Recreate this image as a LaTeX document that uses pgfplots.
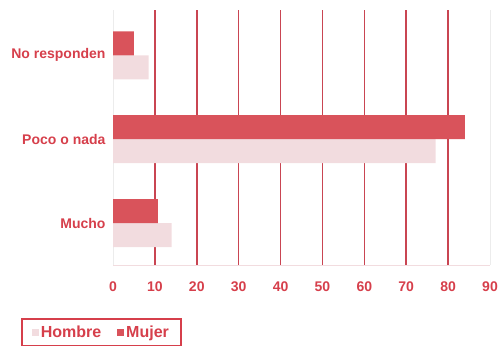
\documentclass[border=0pt]{standalone}
\usepackage{fontspec}
\setmainfont{Liberation Sans}
\usepackage{pgfplots}
\pgfplotsset{compat=1.18}
\definecolor{mujer}{HTML}{D9535B}
\definecolor{hombre}{HTML}{F2DCDF}
\definecolor{txt}{HTML}{D63F4B}
\definecolor{gridc}{HTML}{C94552}
\begin{document}
\begin{tikzpicture}[x=1pt,y=1pt]
\useasboundingbox (0,0) rectangle (500,345);
\begin{axis}[
 at={(113pt,80pt)}, anchor=south west,
 scale only axis, width=377pt, height=255pt,
 xmin=0, xmax=90, ymin=-0.5, ymax=2.54,
 xbar, bar width=24pt,
 xtick={10,20,...,80},
 extra x ticks={0,90},
 extra x tick style={grid=major, major grid style={draw=gray!15, line width=1pt}},
 xmajorgrids, major grid style={draw=gridc, line width=1.6pt},
 ytick={0,1,2}, yticklabels={Mucho,Poco o nada,No responden},
 major tick length=0pt,
 axis lines*=left,
 axis line style={draw=hombre, line width=1pt},
 tick label style={font=\bfseries\fontsize{14}{16}\selectfont, text=txt},
 /pgf/number format/assume math mode=true,
 xticklabel style={yshift=-13pt},
 yticklabel style={xshift=-4pt},
 legend columns=2,
 legend style={at={(-0.244,-0.208)}, anchor=north west, draw=txt, line width=1.5pt,
   font=\bfseries\fontsize{16}{18}\selectfont, text=txt, inner xsep=10pt, inner ysep=5pt,
   /tikz/every even column/.append style={column sep=14pt}},
]
\addplot[fill=hombre, draw=none, bar shift=-12pt,
  legend image code/.code={\fill[hombre] (0pt,-3.5pt) rectangle (7pt,3.5pt);}]
  coordinates {(14,0) (77,1) (8.5,2)};
\addlegendentry{Hombre}
\addplot[fill=mujer, draw=none, bar shift=12pt,
  legend image code/.code={\fill[mujer] (0pt,-3.5pt) rectangle (7pt,3.5pt);}]
  coordinates {(10.7,0) (84,1) (5,2)};
\addlegendentry{Mujer}
\end{axis}
\end{tikzpicture}
\end{document}
